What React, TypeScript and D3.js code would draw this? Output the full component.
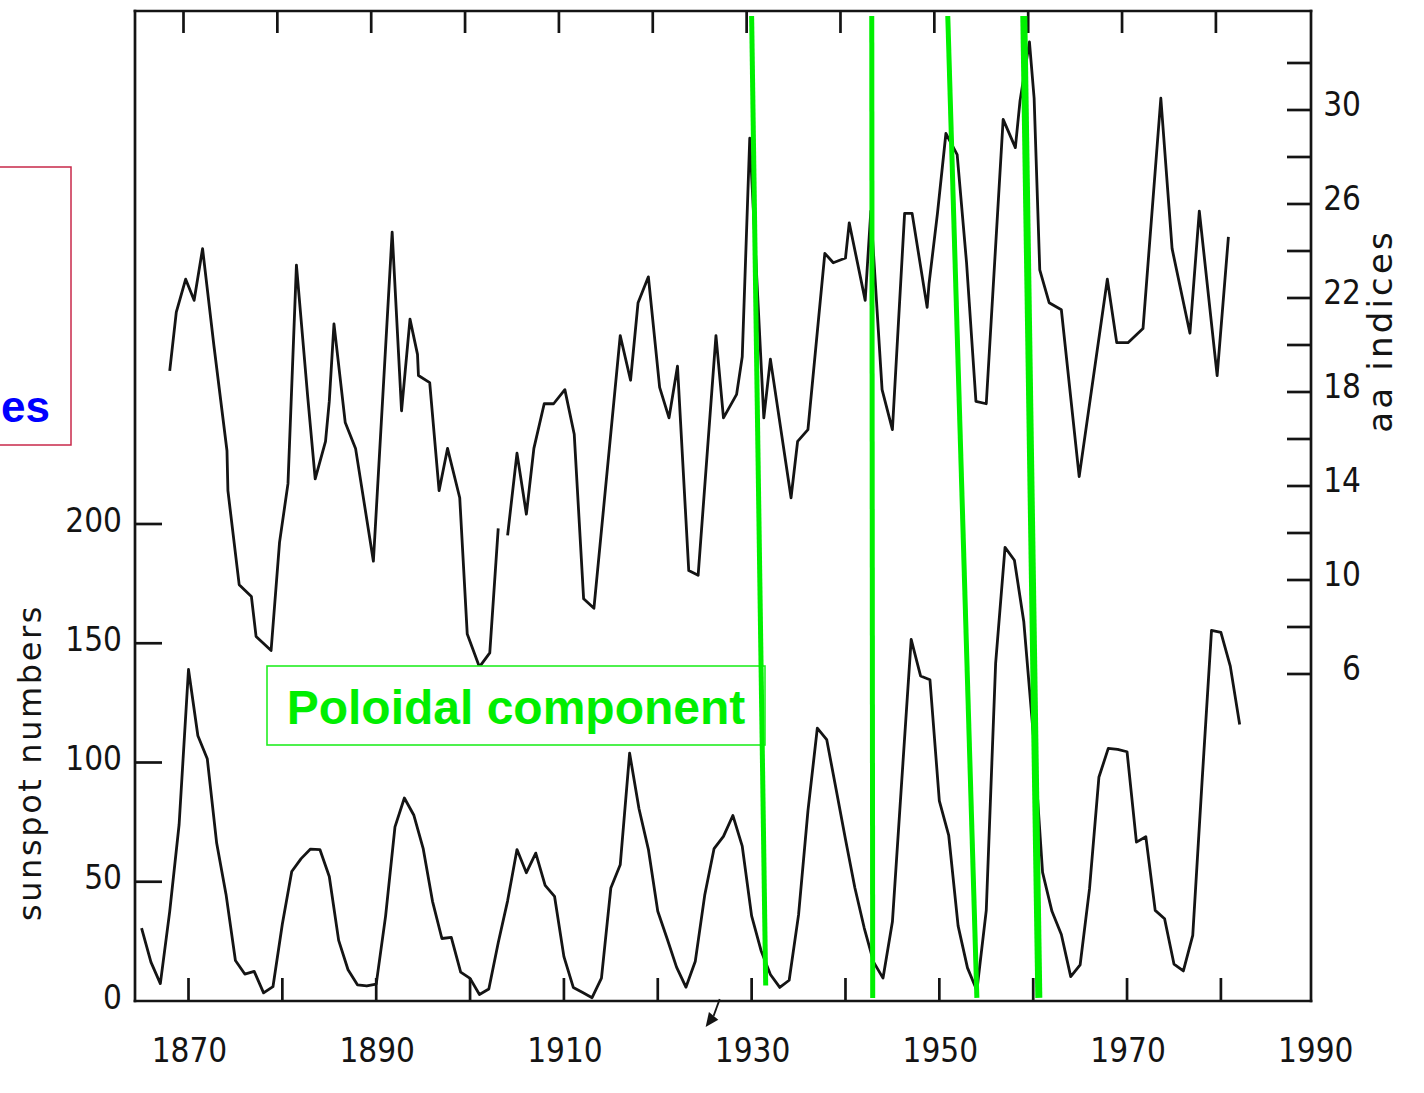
import React from 'react';
import * as d3 from 'd3';

// ---------- data ----------
const sunspotStartYear = 1865;
const sunspotValues = [
  30.6, 16.3, 7.3, 37.6, 74.0, 139.0, 111.2, 101.6, 66.2, 44.7,
  17.0, 11.3, 12.4, 3.4, 6.0, 32.3, 54.3, 59.7, 63.7, 63.5,
  52.2, 25.4, 13.1, 6.8, 6.3, 7.1, 35.6, 73.0, 85.1, 78.0,
  64.0, 41.8, 26.2, 26.7, 12.1, 9.5, 2.7, 5.0, 24.4, 42.0,
  63.5, 53.8, 62.0, 48.5, 43.9, 18.6, 5.7, 3.6, 1.4, 9.6,
  47.4, 57.1, 103.9, 80.6, 63.6, 37.6, 26.1, 14.2, 5.8, 16.7,
  44.3, 63.9, 69.0, 77.8, 64.9, 35.7, 21.2, 11.1, 5.7, 8.7,
  36.1, 79.7, 114.4, 109.6, 88.8, 67.8, 47.5, 30.6, 16.3, 9.6,
  33.2, 92.6, 151.6, 136.3, 134.7, 83.9, 69.4, 31.5, 13.9, 4.4,
  38.0, 141.7, 190.2, 184.8, 159.0, 112.3, 53.9, 37.6, 27.9, 10.2,
  15.1, 47.0, 93.8, 105.9, 105.5, 104.5, 66.6, 68.9, 38.0, 34.5,
  15.5, 12.6, 27.5, 92.5, 155.4, 154.6, 140.4, 115.9,
];

const aaYears = [
  1868.0, 1868.7, 1869.7, 1870.6, 1871.5, 1872.7, 1874.1, 1874.2, 1875.4, 1876.7,
  1877.2, 1878.8, 1879.7, 1880.6, 1881.5, 1882.7, 1883.5, 1884.6, 1885.0, 1885.5,
  1886.7, 1887.8, 1889.7, 1891.7, 1892.7, 1893.6, 1894.4, 1894.5, 1895.7, 1896.7,
  1897.6, 1898.9, 1899.7, 1901.0, 1902.1, 1903.0, 1903.5,
  1904.0, 1905.0, 1906.0, 1906.8, 1907.9, 1908.9, 1910.1, 1911.1, 1912.1, 1913.2,
  1916.0, 1917.1, 1917.9, 1919.0, 1920.2, 1921.2, 1922.1, 1923.3, 1924.3, 1926.2,
  1927.0, 1928.4, 1929.0, 1929.8, 1931.3, 1932.0, 1934.2, 1934.9, 1936.0, 1937.8,
  1938.7, 1940.0, 1940.4, 1942.1, 1942.7, 1943.9, 1945.0, 1946.3, 1947.1, 1948.7,
  1948.9, 1949.8, 1950.7, 1951.9, 1952.9, 1953.9, 1955.0, 1956.8, 1958.1, 1958.6,
  1959.6, 1960.1, 1960.7, 1961.7, 1963.0, 1964.9, 1967.9, 1968.9, 1970.1, 1971.7,
  1973.6, 1974.8, 1976.7, 1977.7, 1979.6, 1980.8,
];
const aaValues = [
  18.9, 21.4, 22.8, 21.9, 24.1, 20.0, 15.5, 13.8, 9.8, 9.3,
  7.6, 7.0, 11.6, 14.1, 23.4, 17.8, 14.3, 15.9, 17.6, 20.9,
  16.7, 15.6, 10.8, 24.8, 17.2, 21.1, 19.6, 18.7, 18.4, 13.8,
  15.6, 13.5, 7.7, 6.3, 6.9, 12.2, NaN,
  11.9, 15.4, 12.8, 15.6, 17.5, 17.5, 18.1, 16.2, 9.2, 8.8,
  20.4, 18.5, 21.8, 22.9, 18.2, 16.9, 19.1, 10.4, 10.2, 20.4,
  16.9, 17.9, 19.5, 28.8, 16.9, 19.4, 13.5, 15.9, 16.4, 23.9,
  23.5, 23.7, 25.2, 21.9, 25.7, 18.1, 16.4, 25.6, 25.6, 21.6,
  22.6, 25.6, 29.0, 28.1, 23.5, 17.6, 17.5, 29.6, 28.4, 30.4,
  32.9, 30.5, 23.2, 21.8, 21.5, 14.4, 22.8, 20.1, 20.1, 20.7,
  30.5, 24.1, 20.5, 25.7, 18.7, 24.6,
];

const yearTicks = [1870, 1880, 1890, 1900, 1910, 1920, 1930, 1940, 1950, 1960, 1970, 1980];
const yearLabels = [1870, 1890, 1910, 1930, 1950, 1970, 1990];
const sunspotTicks = [50, 100, 150, 200];
const sunspotLabels = [0, 50, 100, 150, 200];
const aaTicks = [6, 8, 10, 12, 14, 16, 18, 20, 22, 24, 26, 28, 30, 32];
const aaLabels = [6, 10, 14, 18, 22, 26, 30];

// green marker lines: year at top / bottom, bottom level in sunspot units
const markerTopYears = [1930.0, 1942.8, 1950.9, 1959.0];
const markerBottomYears = [1931.5, 1942.9, 1954.0, 1960.6];
const markerBottomSunspot = [6.5, 1.3, 1.3, 1.3];
const markerTopAa = 34.0;

// small arrow below the time axis (year, sunspot units)
const arrowTail = [1926.6, 0.8];
const arrowHead = [
  [1925.1, -10.9],
  [1925.45, -4.6],
  [1926.45, -7.9],
];

// ---------- layout ----------
const W = 1424;
const H = 1093;
const plot = { left: 135, right: 1311, top: 11, bottom: 1001 };
const numFont = "'DejaVu Sans Condensed', 'DejaVu Sans', sans-serif";
const ink = '#141414';

export default function App() {
  const x = d3.scaleLinear().domain([1864.3, 1989.6]).range([plot.left, plot.right]);
  const ySun = d3.scaleLinear().domain([0, 200]).range([plot.bottom, 524]);
  const yAa = d3.scaleLinear().domain([6, 32]).range([674, 63]);

  const sunLine = d3
    .line<number>()
    .x((_, i) => x(sunspotStartYear + i))
    .y((d) => ySun(d));

  const aaLine = d3
    .line<number>()
    .defined((i) => !isNaN(aaValues[i]))
    .x((i) => x(aaYears[i]))
    .y((i) => yAa(aaValues[i]));

  const aaIdx = d3.range(aaValues.length);
  const headPath =
    'M' + arrowHead.map(([yr, s]) => `${x(yr)},${ySun(s)}`).join('L') + 'Z';
  const shaftEnd = [
    (arrowHead[1][0] + arrowHead[2][0]) / 2,
    (arrowHead[1][1] + arrowHead[2][1]) / 2,
  ];

  return (
    <svg
      width={W}
      height={H}
      viewBox={`0 0 ${W} ${H}`}
      style={{ position: 'absolute', left: 0, top: 0, background: '#fff' }}
    >
      <rect x={0} y={0} width={W} height={H} fill="#fff" />

      {/* red box fragment with blue text */}
      <rect x={-4} y={167} width={75} height={278} fill="none" stroke="#c8284a" strokeWidth={1.5} />
      <text
        x={1}
        y={422}
        textAnchor="start"
        fill="#0000ff"
        fontFamily="'Liberation Sans', Arial, sans-serif"
        fontWeight="bold"
        fontSize={44}
      >
        es
      </text>

      {/* frame */}
      <g stroke={ink} strokeWidth={2.7} fill="none" strokeLinecap="square">
        <line x1={plot.left} y1={plot.top} x2={plot.right} y2={plot.top} />
        <line x1={plot.left} y1={plot.bottom} x2={plot.right} y2={plot.bottom} />
        <line x1={plot.left} y1={plot.top} x2={plot.left} y2={plot.bottom} />
        <line x1={plot.right} y1={plot.top} x2={plot.right} y2={plot.bottom} />
      </g>

      {/* ticks */}
      <g stroke={ink} strokeWidth={2.7}>
        {yearTicks.map((t) => (
          <g key={`yt${t}`}>
            <line x1={x(t)} x2={x(t)} y1={plot.bottom} y2={plot.bottom - 23} />
            <line x1={x(t) - 5} x2={x(t) - 5} y1={plot.top} y2={plot.top + 22} />
          </g>
        ))}
        {sunspotTicks.map((t) => (
          <line key={`st${t}`} x1={plot.left} x2={plot.left + 27} y1={ySun(t)} y2={ySun(t)} />
        ))}
        {aaTicks.map((t) => (
          <line key={`at${t}`} x1={plot.right - 24} x2={plot.right} y1={yAa(t)} y2={yAa(t)} />
        ))}
      </g>

      {/* tick labels */}
      <g fill={ink} fontFamily={numFont} fontSize={33} style={{ fontStretch: 'condensed' }}>
        {yearLabels.map((t) => (
          <text key={`yl${t}`} x={x(t) + 1} y={1062} textAnchor="middle">
            {t}
          </text>
        ))}
        {sunspotLabels.map((t) => (
          <text key={`sl${t}`} x={122} y={ySun(t) - 4} textAnchor="end" dominantBaseline="central">
            {t}
          </text>
        ))}
        {aaLabels.map((t) => (
          <text key={`al${t}`} x={1361} y={yAa(t) - 6} textAnchor="end" dominantBaseline="central">
            {t}
          </text>
        ))}
      </g>

      {/* axis titles */}
      <text
        transform={`translate(41, ${ySun(100)}) rotate(-90)`}
        textAnchor="middle"
        fill={ink}
        fontFamily="'DejaVu Sans', sans-serif"
        fontSize={32}
        letterSpacing={2.6}
      >
        sunspot numbers
      </text>
      <text
        transform={`translate(1392, ${yAa(20.6)}) rotate(-90)`}
        textAnchor="middle"
        fill={ink}
        fontFamily="'DejaVu Sans', sans-serif"
        fontSize={34}
        letterSpacing={3.2}
      >
        aa indices
      </text>

      {/* data curves */}
      <path d={sunLine(sunspotValues) || ''} fill="none" stroke={ink} strokeWidth={2.8} strokeLinejoin="round" />
      <path d={aaLine(aaIdx) || ''} fill="none" stroke={ink} strokeWidth={2.8} strokeLinejoin="round" />

      {/* green annotation box */}
      <rect x={267} y={666} width={498} height={79} fill="#fff" stroke="#22ee22" strokeWidth={1.6} />
      <text
        x={516}
        y={724}
        textAnchor="middle"
        fill="#00ee00"
        fontFamily="'Liberation Sans', Arial, sans-serif"
        fontWeight="bold"
        fontSize={48}
      >
        Poloidal component
      </text>

      {/* green marker lines */}
      {markerTopYears.map((yr, i) => (
        <line
          key={`gm${i}`}
          x1={x(yr)}
          y1={yAa(markerTopAa)}
          x2={x(markerBottomYears[i])}
          y2={ySun(markerBottomSunspot[i])}
          stroke="#00f000"
          strokeWidth={i === 3 ? 7 : 5}
        />
      ))}

      {/* small arrow below the axis */}
      <line
        x1={x(arrowTail[0])}
        y1={ySun(arrowTail[1])}
        x2={x(shaftEnd[0])}
        y2={ySun(shaftEnd[1])}
        stroke={ink}
        strokeWidth={1.8}
      />
      <path d={headPath} fill={ink} />
    </svg>
  );
}
